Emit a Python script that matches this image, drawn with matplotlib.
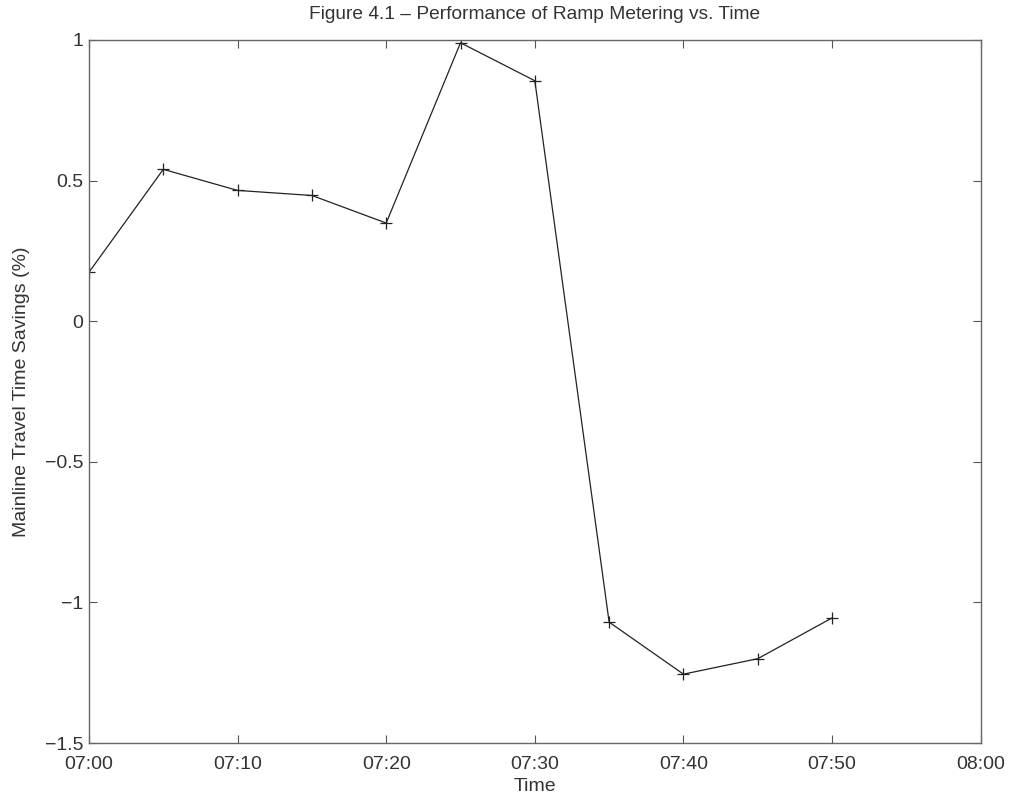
import matplotlib
matplotlib.use("Agg")
import matplotlib.pyplot as plt

plt.rcParams['font.family'] = ['Liberation Sans', 'DejaVu Sans']

# minutes after 07:00
minutes = [0, 5, 10, 15, 20, 25, 30, 35, 40, 45, 50]
savings = [0.174, 0.54, 0.465, 0.447, 0.349, 0.99, 0.855, -1.07, -1.255, -1.2, -1.055]

xtick_pos = [0, 10, 20, 30, 40, 50, 60]
xtick_labels = ['07:00', '07:10', '07:20', '07:30', '07:40', '07:50', '08:00']
ytick_pos = [-1.5, -1, -0.5, 0, 0.5, 1]
ytick_labels = ['-1.5', '-1', '-0.5', '0', '0.5', '1']

fig = plt.figure(figsize=(10.11, 7.99), dpi=100)
ax = fig.add_axes([0.088, 0.070, 0.882, 0.880])

ax.plot(minutes, savings, color='#222222', linewidth=0.9, marker='+',
        markersize=9, markeredgewidth=0.9)

ax.set_xlim(0, 60)
ax.set_ylim(-1.5, 1)
ax.set_xticks(xtick_pos)
ax.set_xticklabels(xtick_labels)
ax.set_yticks(ytick_pos)
ax.set_yticklabels([t.replace('-', '\u2212') for t in ytick_labels])

ax.tick_params(direction='in', top=True, right=True, length=6, width=0.8,
               color='#555555', labelsize=14, labelcolor='#333333')
ax.tick_params(axis='x', pad=9)
ax.tick_params(axis='y', pad=4)
for s in ax.spines.values():
    s.set_color('#666666')
    s.set_linewidth(1.0)

ax.set_xlabel('Time', fontsize=14, color='#333333', labelpad=4)
ax.set_ylabel('Mainline Travel Time Savings (%)', fontsize=14, color='#333333', labelpad=11)
ax.set_title('Figure 4.1 \u2013 Performance of Ramp Metering vs. Time', fontsize=13.8,
             color='#333333', pad=15)

fig.savefig('out.png', dpi=100, facecolor='white')
